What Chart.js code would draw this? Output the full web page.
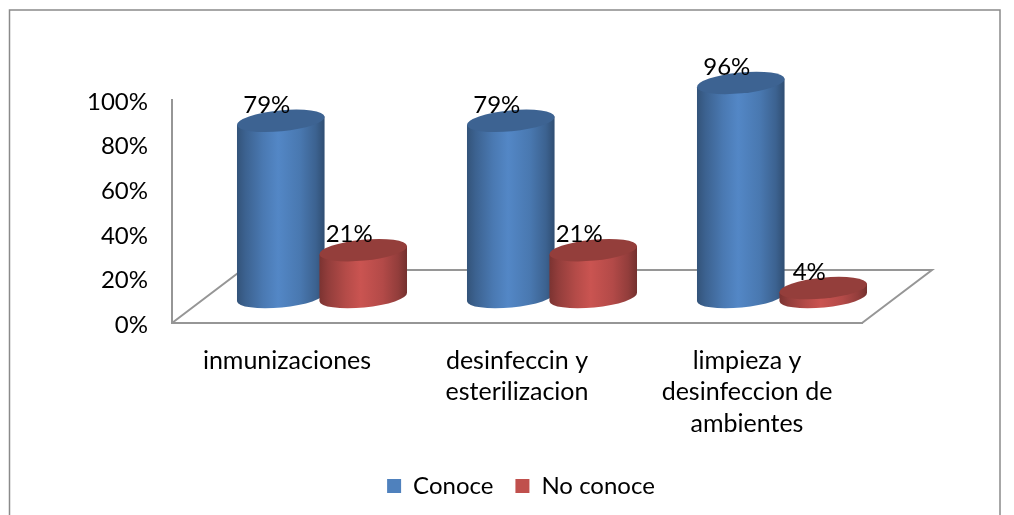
<!DOCTYPE html>
<html>
<head>
<meta charset="utf-8">
<style>html,body{margin:0;padding:0;background:#fff}canvas{display:block}</style>
<script src="https://cdn.jsdelivr.net/npm/chart.js@4/dist/chart.umd.js"></script>
</head>
<body>
<canvas id="c" width="1014" height="515"></canvas>
<script>
const categories = [['inmunizaciones'], ['desinfeccin y', 'esterilizacion'], ['limpieza y', 'desinfeccion de', 'ambientes']];
const conoce = [79, 79, 96];
const noConoce = [21, 21, 4];
const yTicks = [0, 20, 40, 60, 80, 100];
const seriesNames = ['Conoce', 'No conoce'];
const seriesColors = ['#4F81BD', '#C0504D'];

const FONT = 'Lato, Carlito, Calibri, sans-serif';
const AXIS = '#969696';
const DX = 35, DY = -26;          // cylinders stand mid-way across the floor
const FLOOR_DX = 70, FLOOR_DY = -53;
const RY = 10.5, ROT = -5.5 * Math.PI / 180;

function shade(hex, k) {
  const n = parseInt(hex.slice(1), 16);
  const f = v => Math.max(0, Math.min(255, Math.round(v * k)));
  return `rgb(${f(n >> 16 & 255)},${f(n >> 8 & 255)},${f(n & 255)})`;
}

function paintCylinder(ctx, el) {
  const base = el.options.backgroundColor;
  const cx = el.x + DX, top = el.y + DY, bot = el.base + DY, rx = el.width / 2;
  const ex = rx * Math.cos(ROT), ey = rx * Math.sin(ROT);
  const g = ctx.createLinearGradient(cx - rx, 0, cx + rx, 0);
  g.addColorStop(0, shade(base, 0.64));
  g.addColorStop(0.1, shade(base, 0.76));
  g.addColorStop(0.3, shade(base, 0.94));
  g.addColorStop(0.47, shade(base, 1.05));
  g.addColorStop(0.72, shade(base, 0.93));
  g.addColorStop(0.9, shade(base, 0.76));
  g.addColorStop(1, shade(base, 0.6));
  ctx.save();
  ctx.beginPath();
  ctx.moveTo(cx - ex, top - ey);
  ctx.lineTo(cx - ex, bot - ey);
  ctx.ellipse(cx, bot, rx, RY, ROT, Math.PI, 0, true);
  ctx.lineTo(cx + ex, top + ey);
  ctx.closePath();
  ctx.fillStyle = g;
  ctx.fill();
  ctx.beginPath();
  ctx.ellipse(cx, top, rx, RY, ROT, 0, Math.PI * 2);
  ctx.fillStyle = shade(base, 0.77);
  ctx.fill();
  ctx.restore();
}

// The library's bars become tilted 3-D cylinders, painted left to right so red overlaps blue.
let cylinderQueue = [];
Chart.BarElement.prototype.draw = function () { cylinderQueue.push(this); };

// Tick glyphs sit slightly below the axis positions in the reference.
const baseLabelItems = Chart.LinearScale.prototype.getLabelItems;
Chart.LinearScale.prototype.getLabelItems = function (area) {
  const fresh = !this._labelItems;
  const items = baseLabelItems.call(this, area);
  if (fresh) items.forEach(it => { it.textOffset += 2; });
  return items;
};

const scenery = {
  id: 'scenery',
  beforeDraw(chart) {
    const c = chart.ctx;
    c.save();
    c.strokeStyle = '#8a8a8a';
    c.lineWidth = 1.5;
    c.beginPath();
    c.moveTo(9.5, 515);
    c.lineTo(9.5, 10);
    c.lineTo(1000, 10);
    c.lineTo(1000, 515);
    c.stroke();
    c.restore();
  },
  beforeDatasetsDraw(chart) {
    const { left, right, bottom } = chart.chartArea;
    const c = chart.ctx;
    c.save();
    c.strokeStyle = AXIS;
    c.lineWidth = 2;
    c.beginPath();
    c.moveTo(left, bottom);
    c.lineTo(left + FLOOR_DX, bottom + FLOOR_DY);
    c.lineTo(right + FLOOR_DX, bottom + FLOOR_DY);
    c.lineTo(right, bottom);
    c.stroke();
    c.restore();
    cylinderQueue = [];
  },
  afterLayout(chart) {
    const lg = chart.legend;
    lg.left = 0;
    lg.right = 1042;
    lg.top -= 7;
    lg.bottom -= 7;
  },
  afterDatasetsDraw(chart) {
    const c = chart.ctx;
    cylinderQueue.slice().sort((a, b) => a.x - b.x).forEach(el => paintCylinder(c, el));
    c.save();
    c.font = `24px ${FONT}`;
    c.fillStyle = '#000';
    c.textAlign = 'center';
    c.textBaseline = 'middle';
    chart.data.datasets.forEach((ds, i) => {
      chart.getDatasetMeta(i).data.forEach((el, j) => {
        c.fillText(ds.data[j] + '%', el.x + DX - 14, el.y + DY - 16);
      });
    });
    c.restore();
  }
};

new Chart(document.getElementById('c'), {
  type: 'bar',
  plugins: [scenery],
  data: {
    labels: categories,
    datasets: [
      { label: seriesNames[0], data: conoce, backgroundColor: seriesColors[0] },
      { label: seriesNames[1], data: noConoce, backgroundColor: seriesColors[1] }
    ]
  },
  options: {
    responsive: false,
    animation: false,
    categoryPercentage: 0.717,
    barPercentage: 1.067,
    layout: { padding: { left: 0, right: 152, top: 100, bottom: 0 } },
    plugins: {
      tooltip: { enabled: false },
      title: { display: false },
      legend: {
        position: 'bottom',
        labels: { boxWidth: 14, boxHeight: 14, padding: 22, color: '#000', font: { family: FONT, size: 24 } }
      }
    },
    scales: {
      x: {
        afterFit(s) { s.height = 136; },
        grid: { display: false, drawTicks: false },
        border: { color: AXIS, width: 2 },
        ticks: { autoSkip: false, maxRotation: 0, minRotation: 0, padding: 22, color: '#000',
                 font: { family: FONT, size: 25, lineHeight: 1.26 } }
      },
      y: {
        min: 0, max: 100,
        afterFit(s) { s.width = 172; },
        afterBuildTicks(s) { s.ticks = yTicks.map(v => ({ value: v })); },
        grid: { display: false, drawTicks: false },
        border: { color: AXIS, width: 2 },
        ticks: { padding: 24, color: '#000', font: { family: FONT, size: 24 }, callback: v => v + '%' }
      }
    }
  }
});
</script>
</body>
</html>
